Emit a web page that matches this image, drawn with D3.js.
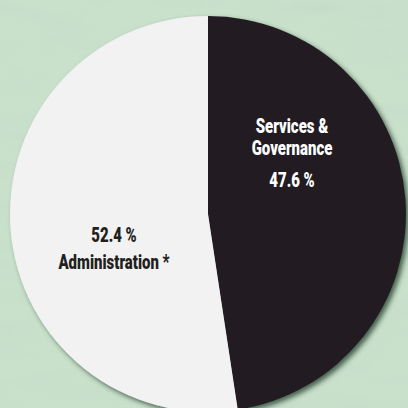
<!DOCTYPE html>
<html>
<head>
<meta charset="utf-8">
<script src="https://cdn.jsdelivr.net/npm/d3@7"></script>
<style>
  html, body { margin: 0; padding: 0; background: #c6dfc8; }
  svg { display: block; }
</style>
</head>
<body>
<svg id="chart" width="408" height="408"></svg>
<script>
// ---- data ----
const categories = ["Services & Governance", "Administration *"];
const values = [47.6, 52.4];
const valueLabels = ["47.6 %", "52.4 %"];
const nameLines = [["Services &", "Governance"], ["Administration *"]];

// ---- layout ----
const W = 408, H = 408;
const cx = 208, cy = 214, R = 198;
const colors = ["#231f20", "#f2f2f2"];
const textColors = ["#ffffff", "#231f20"];

const svg = d3.select("#chart");
const defs = svg.append("defs");

// paper texture
const tex = defs.append("filter").attr("id", "paper").attr("x", 0).attr("y", 0).attr("width", 1).attr("height", 1);
tex.append("feTurbulence").attr("type", "fractalNoise").attr("baseFrequency", "0.012 0.05").attr("numOctaves", 4).attr("seed", 7).attr("result", "n");
tex.append("feColorMatrix").attr("in", "n").attr("type", "matrix")
  .attr("values", "0 0 0 0 0.55  0 0 0 0 0.68  0 0 0 0 0.58  0 0 0 -1.6 0.95");

const shadow = defs.append("filter").attr("id", "shadow").attr("x", "-10%").attr("y", "-10%").attr("width", "130%").attr("height", "130%");
shadow.append("feGaussianBlur").attr("in", "SourceAlpha").attr("stdDeviation", 2.5).attr("result", "b");
shadow.append("feOffset").attr("in", "b").attr("dx", 3).attr("dy", 3).attr("result", "o");
shadow.append("feFlood").attr("flood-color", "#1f3a28").attr("flood-opacity", 0.75);
shadow.append("feComposite").attr("in2", "o").attr("operator", "in").attr("result", "s");
const merge = shadow.append("feMerge");
merge.append("feMergeNode").attr("in", "s");
merge.append("feMergeNode").attr("in", "SourceGraphic");

svg.append("rect").attr("width", W).attr("height", H).attr("fill", "#c9e1cb");
svg.append("rect").attr("width", W).attr("height", H).attr("filter", "url(#paper)").attr("opacity", 0.6);

const pie = d3.pie().sort(null).value(d => d)(values);
const arc = d3.arc().innerRadius(0).outerRadius(R);

const g = svg.append("g").attr("transform", `translate(${cx},${cy})`);
const slices = g.append("g").attr("filter", "url(#shadow)");
slices.selectAll("path").data(pie).join("path")
  .attr("d", arc)
  .attr("fill", (d, i) => colors[i]);

// label anchors (offsets from pie center, first baseline)
const labelPos = [[84, -81], [-94, 28]];
const font = "Roboto, 'DejaVu Sans Condensed', sans-serif";
const condense = 0.73;

pie.forEach((d, i) => {
  const t = g.append("text")
    .attr("text-anchor", "middle")
    .attr("font-family", font)
    .attr("font-weight", 900)
    .attr("font-size", 20.5)
    .attr("fill", textColors[i])
    .attr("transform", `translate(${labelPos[i][0]},${labelPos[i][1]}) scale(${condense},1)`);
  let lines;
  if (i === 0) {
    lines = [{ s: nameLines[0][0], dy: 0 }, { s: nameLines[0][1], dy: 22 }, { s: valueLabels[0], dy: 32 }];
  } else {
    lines = [{ s: valueLabels[1], dy: 0 }, { s: nameLines[1][0], dy: 27 }];
  }
  let y = 0;
  lines.forEach(l => {
    y += l.dy;
    t.append("tspan").attr("x", 0).attr("y", y).text(l.s);
  });
});
</script>
</body>
</html>
